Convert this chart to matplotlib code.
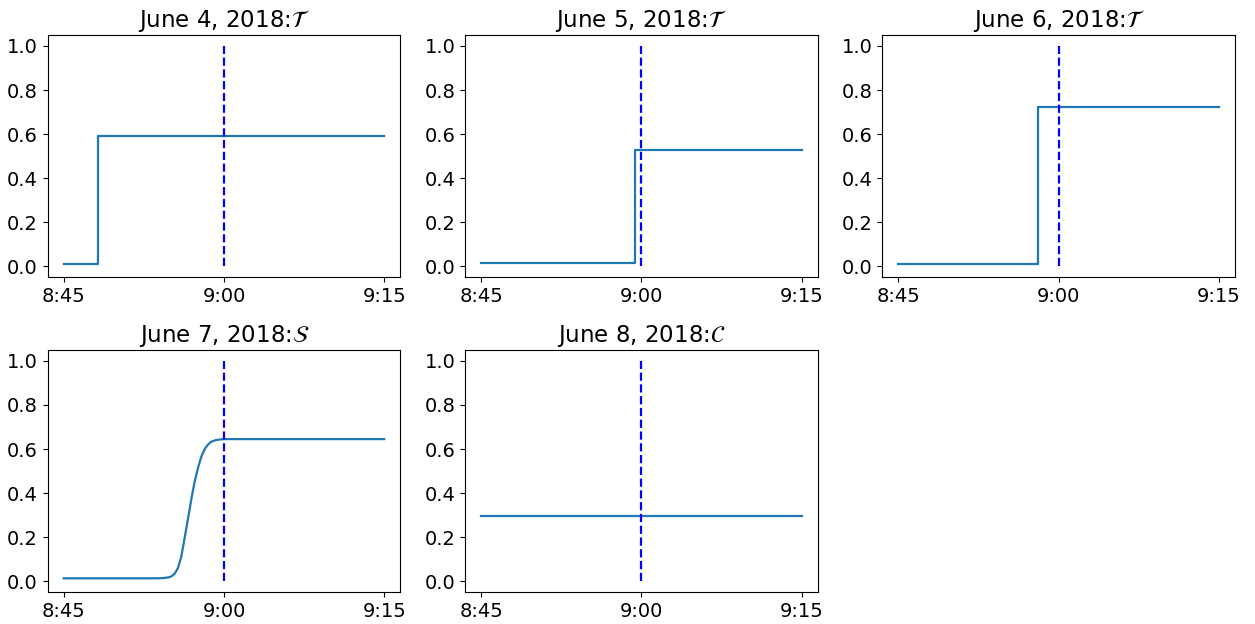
import numpy as np
import matplotlib
matplotlib.use("Agg")
import matplotlib.pyplot as plt

# Minutes after 8:45
TICKS = [0, 15, 30]
TICK_LABELS = ["8:45", "9:00", "9:15"]
EVENT_TIME = 15  # 9:00

titles = [r"June 4, 2018:$\mathcal{T}$", r"June 5, 2018:$\mathcal{T}$",
          r"June 6, 2018:$\mathcal{T}$", r"June 7, 2018:$\mathcal{S}$",
          r"June 8, 2018:$\mathcal{C}$"]

# June 4-6: step curves (time, value)
jun4_t = [0, 3.2, 30]
jun4_y = [0.012, 0.592, 0.592]
jun5_t = [0, 14.4, 30]
jun5_y = [0.016, 0.527, 0.527]
jun6_t = [0, 13.1, 30]
jun6_y = [0.01, 0.722, 0.722]

# June 7: smooth curve
jun7_t = [0, 8.8, 9.3, 9.8, 10.1, 10.4, 10.7, 11.0, 11.3, 11.55, 11.8, 12.05,
          12.3, 12.6, 12.9, 13.2, 13.5, 13.8, 14.2, 14.6, 15.0, 30]
jun7_y = [0.013, 0.013, 0.014, 0.017, 0.022, 0.035, 0.06, 0.11, 0.19, 0.26,
          0.33, 0.40, 0.46, 0.52, 0.567, 0.60, 0.62, 0.633, 0.640, 0.643,
          0.645, 0.645]

# June 8: constant
jun8_t = [0, 30]
jun8_y = [0.297, 0.297]

series = [(jun4_t, jun4_y, "steps-post"), (jun5_t, jun5_y, "steps-post"),
          (jun6_t, jun6_y, "steps-post"), (jun7_t, jun7_y, "default"),
          (jun8_t, jun8_y, "default")]

plt.rcParams["font.size"] = 14

fig, axes = plt.subplots(2, 3, figsize=(12.55, 6.24), dpi=100)
fig.subplots_adjust(left=0.038, right=0.984, top=0.944, bottom=0.051,
                    wspace=0.184, hspace=0.30)

for ax, title, (t, y, ds) in zip(axes.flat, titles, series):
    ax.plot(t, y, color="#1f77b4", lw=1.6, drawstyle=ds)
    ax.vlines(EVENT_TIME, 0, 1, colors="blue", linestyles="--", lw=1.6)
    ax.set_title(title, fontsize=16.5)
    ax.set_xticks(TICKS)
    ax.set_xticklabels(TICK_LABELS)
    ax.set_yticks([0.0, 0.2, 0.4, 0.6, 0.8, 1.0])
    ax.set_xlim(-1.5, 31.5)
    ax.set_ylim(-0.05, 1.05)

axes[1, 2].remove()

fig.savefig("out.png")
